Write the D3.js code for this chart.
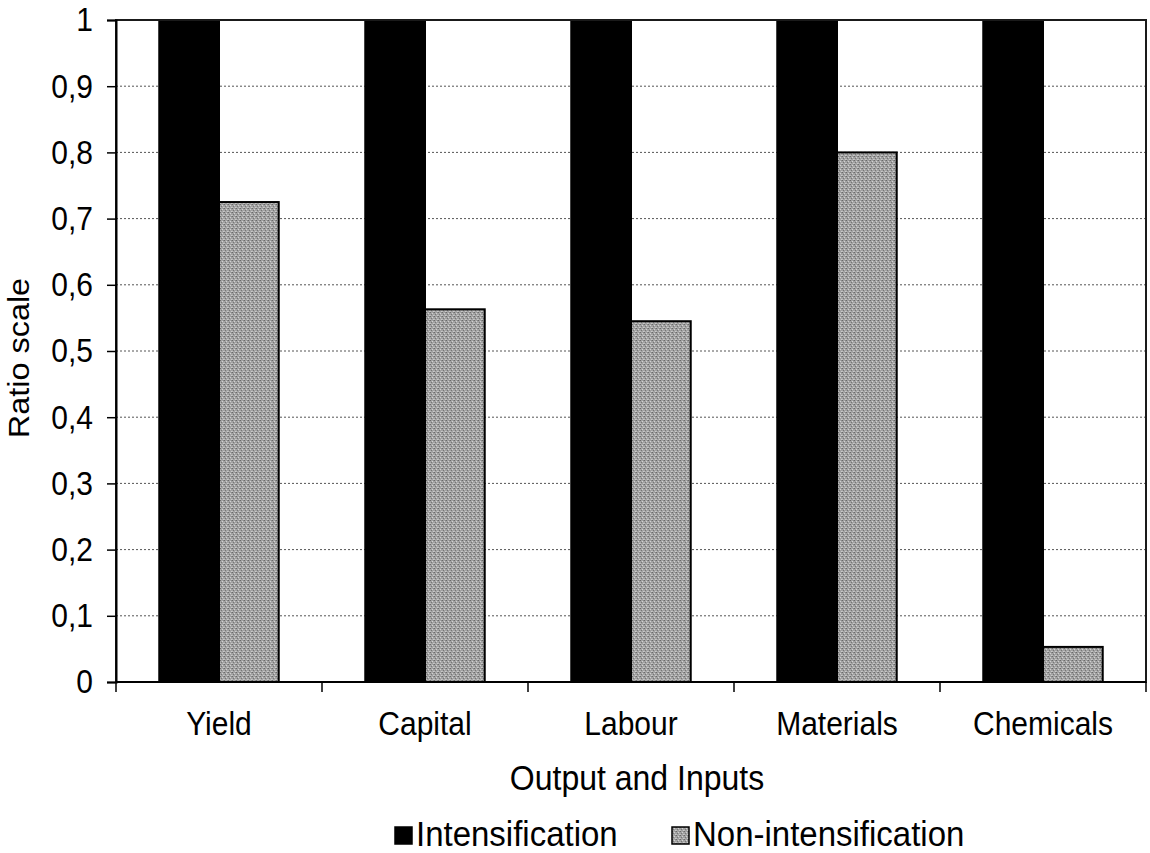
<!DOCTYPE html>
<html>
<head>
<meta charset="utf-8">
<script src="https://cdn.jsdelivr.net/npm/d3@7"></script>
<style>
  html, body { margin: 0; padding: 0; background: #fff; }
  svg { display: block; font-family: Arial, "Liberation Sans", sans-serif; }
</style>
</head>
<body>
<svg id="chart" width="1150" height="853"></svg>
<script>
// Output and input ratios, intensifying vs. non-intensifying farms
const categories = ["Yield", "Capital", "Labour", "Materials", "Chemicals"];
const seriesNames = ["Intensification", "Non-intensification"];
const intensification = [1, 1, 1, 1, 1];
const nonIntensification = [0.725, 0.563, 0.545, 0.8, 0.053];
const yTicks = [0, 0.1, 0.2, 0.3, 0.4, 0.5, 0.6, 0.7, 0.8, 0.9, 1];
const yTickLabels = ["0", "0,1", "0,2", "0,3", "0,4", "0,5", "0,6", "0,7", "0,8", "0,9", "1"];

const svg = d3.select("#chart");
const margin = { left: 116, right: 4, top: 20, bottom: 171 };
const W = 1150, H = 853;
const plotW = W - margin.left - margin.right;
const plotH = H - margin.top - margin.bottom;
const TEXT_STRETCH = 1.08; // glyphs are drawn slightly taller than wide

// Speckled grey fill used for the non-intensification bars
const defs = svg.append("defs");
const pat = defs.append("pattern")
  .attr("id", "greyFill").attr("patternUnits", "userSpaceOnUse")
  .attr("width", 4).attr("height", 4);
pat.append("rect").attr("width", 4).attr("height", 4).attr("fill", "#a2a2a2");
[[0, 0, "#6a6a6a"], [2, 1, "#d2d2d2"], [1, 2, "#767676"], [3, 3, "#cacaca"], [3, 0, "#888"], [0, 3, "#bdbdbd"]]
  .forEach(([x, y, c]) => pat.append("rect").attr("x", x).attr("y", y).attr("width", 1).attr("height", 1).attr("fill", c));

const colors = ["#000000", "url(#greyFill)"];

const g = svg.append("g").attr("transform", `translate(${margin.left},${margin.top})`);

const x0 = d3.scaleBand().domain(categories).range([0, plotW]).padding(0);
const x1 = d3.scaleBand().domain(seriesNames)
  .range([x0.bandwidth() * 0.21, x0.bandwidth() * 0.79]).padding(0);
const y = d3.scaleLinear().domain([0, 1]).range([plotH, 0]);

// Dotted horizontal gridlines
g.append("g").selectAll("line")
  .data(yTicks.filter(t => t > 0 && t < 1))
  .join("line")
  .attr("x1", 0).attr("x2", plotW)
  .attr("y1", d => y(d)).attr("y2", d => y(d))
  .attr("stroke", "#555").attr("stroke-width", 1)
  .attr("stroke-dasharray", "2,2");

// Bars
const rows = categories.map((c, i) => ({ cat: c, values: [intensification[i], nonIntensification[i]] }));
const groups = g.append("g").selectAll("g")
  .data(rows).join("g")
  .attr("transform", d => `translate(${x0(d.cat)},0)`);
groups.selectAll("rect")
  .data(d => d.values.map((v, k) => ({ key: seriesNames[k], v, k })))
  .join("rect")
  .attr("x", d => x1(d.key))
  .attr("width", x1.bandwidth())
  .attr("y", d => y(d.v))
  .attr("height", d => y(0) - y(d.v))
  .attr("fill", d => colors[d.k])
  .attr("stroke", "#000").attr("stroke-width", 2);

// Plot frame
g.append("rect").attr("x", 0).attr("y", 0).attr("width", plotW).attr("height", plotH)
  .attr("fill", "none").attr("stroke", "#1a1a1a").attr("stroke-width", 2);

// Text helper: positioned via transform so it can be stretched vertically
function placeText(sel, x, yPos, extra) {
  return sel.attr("transform", (d, i) =>
    `translate(${typeof x === "function" ? x(d, i) : x},${typeof yPos === "function" ? yPos(d, i) : yPos})` +
    (extra || "") + ` scale(1,${TEXT_STRETCH})`);
}

// Y axis
const yAxis = d3.axisLeft(y).tickValues(yTicks)
  .tickFormat((d, i) => yTickLabels[i]).tickSize(9).tickPadding(14);
const ya = g.append("g").call(yAxis);
ya.select(".domain").attr("stroke", "#000").attr("stroke-width", 2);
ya.selectAll(".tick line").attr("stroke", "#000").attr("stroke-width", 1.5);
ya.selectAll(".tick text")
  .attr("font-size", 30).attr("fill", "#000")
  .attr("font-family", "Arial, 'Liberation Sans', sans-serif")
  .attr("x", null).attr("dy", null)
  .attr("dominant-baseline", "central")
  .attr("transform", `translate(-23,0) scale(1,${TEXT_STRETCH})`);

// X axis: tick marks at category boundaries, labels centred in bands
const xa = g.append("g").attr("transform", `translate(0,${plotH})`);
xa.append("line").attr("x1", 0).attr("x2", plotW).attr("stroke", "#000").attr("stroke-width", 2);
xa.selectAll("line.tk")
  .data(categories.map(c => x0(c)).concat([plotW]))
  .join("line").attr("class", "tk")
  .attr("x1", d => d).attr("x2", d => d).attr("y1", 0).attr("y2", 10)
  .attr("stroke", "#000").attr("stroke-width", 1.5);
placeText(
  xa.selectAll("text").data(categories).join("text")
    .attr("text-anchor", "middle")
    .attr("font-size", 30).attr("fill", "#000")
    .text(d => d),
  d => x0(d) + x0.bandwidth() / 2, 53);

// Axis titles
placeText(svg.append("text")
  .attr("text-anchor", "middle").attr("font-size", 32).attr("fill", "#000")
  .text("Output and Inputs"), margin.left + plotW / 2 + 6, 790);
svg.append("text")
  .attr("transform", `translate(29,358) rotate(-90) scale(${TEXT_STRETCH},1)`)
  .attr("text-anchor", "middle").attr("font-size", 30).attr("fill", "#000")
  .text("Ratio scale");

// Legend
const legendX = [395, 672];
const leg = svg.append("g").selectAll("g")
  .data(seriesNames).join("g")
  .attr("transform", (d, i) => `translate(${legendX[i]},827)`);
leg.append("rect").attr("width", 17).attr("height", 17)
  .attr("fill", (d, i) => colors[i]).attr("stroke", "#000").attr("stroke-width", 1.5);
placeText(leg.append("text")
  .attr("font-size", 33).attr("fill", "#000")
  .text(d => d), 21, 19);
</script>
</body>
</html>
